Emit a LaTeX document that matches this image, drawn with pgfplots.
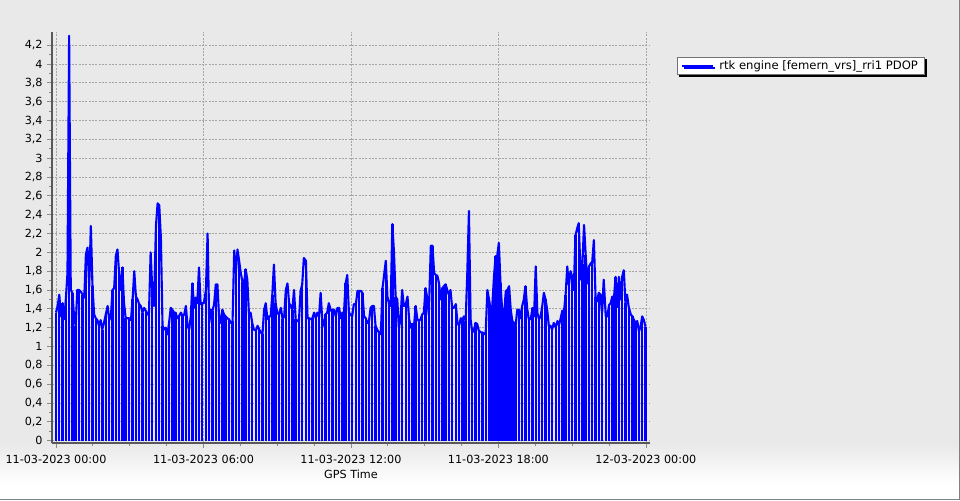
\documentclass[border=0pt]{standalone}
\usepackage{fontspec}
\setmainfont{DejaVu Sans}
\usepackage{pgfplots}
\pgfplotsset{compat=1.18}
\usepackage{pgfplotstable}
\usetikzlibrary{shadows}
\definecolor{bgc}{RGB}{233,233,233}
\definecolor{axc}{RGB}{88,88,88}
\definecolor{gridc}{RGB}{165,165,165}
\definecolor{lineblue}{RGB}{0,0,255}
\newcommand{\chartfont}{\fontsize{8.4}{10}\selectfont}

% GPS time in minutes after 11-03-2023 00:00, PDOP
\pgfplotstableread[row sep=\\]{
t v\\
0 1.36\\ 4 1.43\\ 8 1.55\\ 12 1.32\\ 16 1.46\\ 20 1.29\\ 24 1.5\\ 28 1.78\\ 32 4.3\\ 36 1.6\\ 40 1.57\\ 44 1.32\\ 48 1.22\\ 52 1.6\\ 56 1.6\\
61 1.58\\ 65 1.55\\ 69 1.52\\ 73 1.98\\ 77 2.05\\ 81 1.64\\ 85 2.28\\ 89 1.64\\ 93 1.34\\ 97 1.3\\ 101 1.28\\ 105 1.22\\ 109 1.28\\ 113 1.18\\ 117 1.25\\
122 1.35\\ 126 1.43\\ 130 1.28\\ 134 1.32\\ 138 1.6\\ 142 1.62\\ 146 1.96\\ 150 2.03\\ 154 1.78\\ 158 1.6\\ 162 1.84\\ 166 1.46\\ 170 1.3\\ 174 1.3\\ 178 1.3\\
183 1.28\\ 187 1.5\\ 191 1.8\\ 195 1.53\\ 199 1.5\\ 203 1.45\\ 207 1.43\\ 211 1.36\\ 215 1.41\\ 219 1.38\\ 223 1.34\\ 227 1.36\\ 231 2.0\\ 235 1.6\\ 239 1.43\\
244 2.28\\ 248 2.52\\ 252 2.5\\ 256 2.15\\ 260 1.22\\ 264 1.18\\ 268 1.2\\ 272 1.13\\ 276 1.25\\ 280 1.41\\ 284 1.39\\ 288 1.36\\ 292 1.36\\ 296 1.3\\ 300 1.32\\
305 1.36\\ 309 1.32\\ 313 1.34\\ 317 1.43\\ 321 1.22\\ 325 1.18\\ 329 1.32\\ 333 1.67\\ 337 1.41\\ 341 1.52\\ 345 1.46\\ 349 1.84\\ 353 1.45\\ 357 1.46\\ 361 1.46\\
366 1.6\\ 370 2.2\\ 374 1.25\\ 378 1.39\\ 382 1.38\\ 386 1.45\\ 390 1.66\\ 394 1.66\\ 398 1.32\\ 402 1.25\\ 406 1.39\\ 410 1.34\\ 414 1.32\\ 418 1.3\\ 422 1.29\\
427 1.25\\ 431 1.27\\ 435 2.02\\ 439 1.78\\ 443 2.03\\ 447 1.91\\ 451 1.78\\ 455 1.69\\ 459 1.66\\ 463 1.82\\ 467 1.71\\ 471 1.34\\ 475 1.36\\ 479 1.25\\ 483 1.18\\
488 1.17\\ 492 1.22\\ 496 1.18\\ 500 1.15\\ 504 1.13\\ 508 1.39\\ 512 1.46\\ 516 1.29\\ 520 1.32\\ 524 1.32\\ 528 1.55\\ 532 1.87\\ 536 1.46\\ 540 1.36\\ 544 1.34\\
549 1.41\\ 553 1.29\\ 557 1.32\\ 561 1.6\\ 565 1.67\\ 569 1.46\\ 573 1.43\\ 577 1.39\\ 581 1.6\\ 585 1.29\\ 589 1.27\\ 593 1.27\\ 597 1.59\\ 601 1.66\\ 605 1.94\\
610 1.91\\ 614 1.3\\ 618 1.3\\ 622 1.29\\ 626 1.3\\ 630 1.36\\ 634 1.3\\ 638 1.36\\ 642 1.32\\ 646 1.57\\ 650 1.27\\ 654 1.22\\ 658 1.34\\ 662 1.36\\ 666 1.46\\
671 1.38\\ 675 1.39\\ 679 1.39\\ 683 1.32\\ 687 1.41\\ 691 1.41\\ 695 1.3\\ 699 1.36\\ 703 1.36\\ 707 1.67\\ 711 1.76\\ 715 1.36\\ 719 1.34\\ 723 1.32\\ 727 1.45\\
732 1.45\\ 736 1.59\\ 740 1.59\\ 744 1.59\\ 748 1.57\\ 752 1.32\\ 756 1.3\\ 760 1.25\\ 764 1.27\\ 768 1.41\\ 772 1.43\\ 776 1.43\\ 780 1.22\\ 784 1.18\\ 788 1.15\\
793 1.13\\ 797 1.62\\ 801 1.76\\ 805 1.91\\ 809 1.53\\ 813 1.45\\ 817 1.43\\ 821 2.3\\ 825 2.0\\ 829 1.53\\ 833 1.5\\ 837 1.2\\ 841 1.29\\ 845 1.6\\ 849 1.43\\
854 1.45\\ 858 1.53\\ 862 1.29\\ 866 1.2\\ 870 1.24\\ 874 1.22\\ 878 1.43\\ 882 1.29\\ 886 1.27\\ 890 1.29\\ 894 1.34\\ 898 1.36\\ 902 1.62\\ 906 1.52\\ 910 1.34\\
915 2.07\\ 919 2.07\\ 923 1.78\\ 927 1.76\\ 931 1.75\\ 935 1.67\\ 939 1.5\\ 943 1.62\\ 947 1.64\\ 951 1.66\\ 955 1.6\\ 959 1.55\\ 963 1.6\\ 967 1.41\\ 971 1.41\\
976 1.45\\ 980 1.25\\ 984 1.22\\ 988 1.3\\ 992 1.29\\ 996 1.32\\ 1000 1.27\\ 1004 1.78\\ 1008 2.44\\ 1012 1.29\\ 1016 1.15\\ 1020 1.17\\ 1024 1.25\\ 1028 1.24\\ 1032 1.17\\
1037 1.15\\ 1041 1.15\\ 1045 1.13\\ 1049 1.15\\ 1053 1.6\\ 1057 1.5\\ 1061 1.39\\ 1065 1.43\\ 1069 1.73\\ 1073 1.96\\ 1077 1.96\\ 1081 2.1\\ 1085 1.67\\ 1089 1.39\\ 1093 1.29\\
1098 1.59\\ 1102 1.6\\ 1106 1.64\\ 1110 1.39\\ 1114 1.27\\ 1118 1.25\\ 1122 1.22\\ 1126 1.39\\ 1130 1.39\\ 1134 1.3\\ 1138 1.43\\ 1142 1.5\\ 1146 1.64\\ 1150 1.41\\ 1154 1.29\\
1159 1.29\\ 1163 1.41\\ 1167 1.32\\ 1171 1.85\\ 1175 1.36\\ 1179 1.29\\ 1183 1.32\\ 1187 1.43\\ 1191 1.57\\ 1195 1.5\\ 1199 1.39\\ 1203 1.22\\ 1207 1.22\\ 1211 1.18\\ 1215 1.25\\
1220 1.2\\ 1224 1.27\\ 1228 1.23\\ 1232 1.3\\ 1236 1.38\\ 1240 1.37\\ 1244 1.55\\ 1248 1.85\\ 1252 1.65\\ 1256 1.8\\ 1260 1.74\\ 1264 1.6\\ 1268 2.18\\ 1272 2.25\\ 1276 2.31\\
1281 1.71\\ 1285 1.88\\ 1289 2.29\\ 1293 1.97\\ 1297 1.67\\ 1301 1.85\\ 1305 1.88\\ 1309 1.9\\ 1313 2.13\\ 1317 1.53\\ 1321 1.48\\ 1325 1.57\\ 1329 1.55\\ 1333 1.35\\ 1337 1.71\\
1342 1.32\\ 1346 1.32\\ 1350 1.44\\ 1354 1.46\\ 1358 1.53\\ 1362 1.51\\ 1366 1.74\\ 1370 1.42\\ 1374 1.74\\ 1378 1.5\\ 1382 1.74\\ 1386 1.81\\ 1390 1.46\\ 1394 1.55\\ 1398 1.42\\
1403 1.34\\ 1407 1.32\\ 1411 1.28\\ 1415 1.25\\ 1419 1.27\\ 1423 1.16\\ 1427 1.21\\ 1431 1.32\\ 1435 1.28\\ 1439 1.21\\
}\pdop

\begin{document}
\begin{tikzpicture}
\fill[bgc] (0,0) rectangle (720pt,375pt);
\shade[top color=bgc, bottom color=white] (0,12pt) rectangle (720pt,42pt);
\fill[white] (0,0) rectangle (720pt,12pt);
\draw[black!50, line width=0.75pt] (0,0.4pt) -- (719.6pt,0.4pt) -- (719.6pt,375pt);
\begin{axis}[
  at={(39pt,42.75pt)}, anchor=south west, scale only axis,
  width=448.5pt, height=308.25pt,
  xmin=-9.8, xmax=1450, ymin=-0.025, ymax=4.34,
  axis x line*=bottom, axis y line*=left,
  axis line style={draw=axc, line width=1.5pt},
  x axis line style={-}, y axis line style={-},
  xtick={0,360,720,1080,1440},
  xticklabels={11-03-2023 00:00,11-03-2023 06:00,11-03-2023 12:00,11-03-2023 18:00,12-03-2023 00:00},
  minor x tick num=3,
  ytick={0,0.2,0.4,0.6,0.8,1,1.2,1.4,1.6,1.8,2,2.2,2.4,2.6,2.8,3,3.2,3.4,3.6,3.8,4,4.2},
  yticklabels={0,{0,2},{0,4},{0,6},{0,8},1,{1,2},{1,4},{1,6},{1,8},2,{2,2},{2,4},{2,6},{2,8},3,{3,2},{3,4},{3,6},{3,8},4,{4,2}},
  minor y tick num=1,
  tick align=outside,
  major tick length=3.5pt, minor tick length=2.5pt,
  tick style={black!45, line width=0.6pt},
  grid=major,
  major grid style={gridc, line width=0.6pt, dash pattern=on 1.5pt off 1pt},
  tick label style={font=\chartfont, black},
  xticklabel style={yshift=-2.25pt},
  xlabel={GPS Time},
  xlabel style={font=\chartfont, black, yshift=2pt},
  legend style={at={(1,1)}, anchor=north west, xshift=20.25pt, yshift=-18.75pt,
    draw=black!55, line width=0.6pt, fill=white, font=\fontsize{8.7}{10}\selectfont,
    inner xsep=3pt, inner ysep=0.5pt,
    /tikz/every odd column/.append style={column sep=2pt},
    drop shadow={shadow xshift=1.5pt, shadow yshift=-1.5pt, fill=black, opacity=1}},
  legend cell align=left,
  legend image code/.code={\draw[#1, line width=1.5pt] (0pt,0pt) -- (23pt,0pt);},
]
% signal-loss drops to zero, every second epoch
\addplot[ycomb, lineblue, line width=1.8pt, forget plot, each nth point=2, filter discard warning=false]
  table[x=t, y=v] {\pdop};
% dense drops around 18:00
\addplot[ycomb, lineblue, line width=1.8pt, forget plot, restrict x to domain=1060:1110]
  table[x=t, y=v] {\pdop};
\addplot[lineblue, line width=1.6pt, line join=round] table[x=t, y=v] {\pdop};
\addlegendentry{rtk engine [femern\_vrs]\_rri1 PDOP}
\end{axis}
\pgfresetboundingbox
\useasboundingbox (0,0) rectangle (720pt,375pt);
\end{tikzpicture}
\end{document}
